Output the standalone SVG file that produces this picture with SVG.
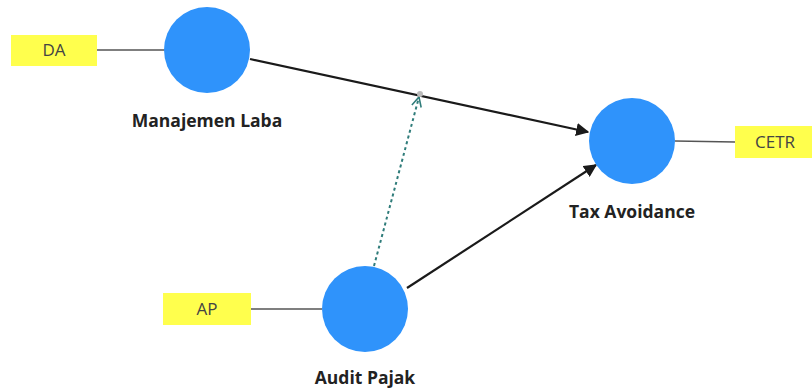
<svg xmlns="http://www.w3.org/2000/svg" width="812" height="390" viewBox="0 0 812 390">
<defs>
<style>
.ind{fill:#ffff4d;}
.ind-t{font-family:"Open Sans","Liberation Sans",sans-serif;font-size:17px;fill:#444;text-anchor:middle;}
.lv{fill:#2f93fb;}
.lv-t{font-family:"Open Sans","Liberation Sans",sans-serif;font-size:17.5px;font-weight:bold;fill:#222;text-anchor:middle;}
.link{stroke:#555;stroke-width:1.6;fill:none;}
.path{stroke:#1a1a1a;stroke-width:2.2;fill:none;}
.mod{stroke:#2f7c7a;stroke-width:2;stroke-dasharray:3,3;fill:none;}
</style>
<marker id="ah" viewBox="0 0 10 10" refX="9" refY="5" markerWidth="6" markerHeight="6" orient="auto" markerUnits="strokeWidth">
<path d="M0,0 L10,5 L0,10 z" fill="#1a1a1a"/>
</marker>
<marker id="oh" viewBox="0 0 10 10" refX="9" refY="5" markerWidth="6" markerHeight="6" orient="auto" markerUnits="strokeWidth">
<path d="M1,1 L9,5 L1,9" fill="none" stroke="#2f7c7a" stroke-width="1.3"/>
</marker>
</defs>
<rect width="812" height="390" fill="#fff"/>
<g id="connectors">
<line class="link" x1="97" y1="50" x2="165" y2="50"/>
<line class="link" x1="251" y1="309" x2="322" y2="309"/>
<line class="link" x1="675" y1="141" x2="735" y2="142"/>
<line class="path" x1="250" y1="59" x2="588" y2="132" marker-end="url(#ah)"/>
<line class="path" x1="407" y1="288" x2="596" y2="165" marker-end="url(#ah)"/>
<line class="mod" x1="374" y1="266" x2="419" y2="97" marker-end="url(#oh)"/>
<circle cx="420" cy="94" r="3" fill="#bbb"/>
</g>
<g id="DA">
<rect class="ind" x="11" y="35" width="86" height="31"/>
<text class="ind-t" x="54" y="56">DA</text>
</g>
<g id="AP">
<rect class="ind" x="163" y="293" width="88" height="32"/>
<text class="ind-t" x="207" y="315">AP</text>
</g>
<g id="CETR">
<rect class="ind" x="735" y="126" width="77" height="32"/>
<text class="ind-t" x="775" y="148">CETR</text>
</g>
<g id="ManajemenLaba">
<circle class="lv" cx="207" cy="50" r="43"/>
<text class="lv-t" x="207" y="127">Manajemen Laba</text>
</g>
<g id="TaxAvoidance">
<circle class="lv" cx="632" cy="141" r="43"/>
<text class="lv-t" x="632" y="218">Tax Avoidance</text>
</g>
<g id="AuditPajak">
<circle class="lv" cx="365" cy="309" r="43"/>
<text class="lv-t" x="365" y="384">Audit Pajak</text>
</g>
</svg>
